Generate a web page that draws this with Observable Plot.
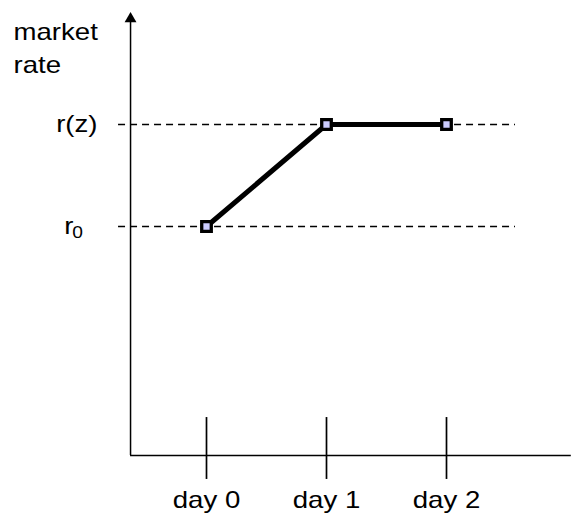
<!DOCTYPE html>
<html><head><meta charset="utf-8">
<script src="https://cdn.jsdelivr.net/npm/d3@7"></script>
<script src="https://cdn.jsdelivr.net/npm/@observablehq/plot@0.6"></script>
<style>
html,body{margin:0;padding:0;background:#fff;}
svg text{font-family:"Liberation Sans",Arial,sans-serif;}
</style></head><body><div id="chart"></div>
<script>
// ---- data ----
const dayLabels = ["day 0", "day 1", "day 2"];
const dayValues = [0, 1, 2];
const marketRate = [1, 2, 2];          // r0 on day 0, r(z) on day 1 and day 2
const rateLevels = [1, 2];             // r0, r(z)
const levelMain = ["r", "r(z)"];
const levelSub = ["0", ""];
const yTitle = "market\nrate";

// ---- layout (in data units) ----
const X = {axisLine: -0.633, axisEnd: 3.04, dashStart: -0.733, dashEnd: 2.575,
           labelEnd: -0.908, rEnd: -1.108, subStart: -1.118, title: -1.608};
const Y = {axisLevel: -1.245, arrowTop: 3.035, tickTop: -0.873, tickBottom: -1.48,
           tickLabel: -1.764, title: 3.055};
const FS = 23;

const chart = Plot.plot({
  width: 571, height: 521, margin: 0,
  x: {type: "linear", domain: [0, 2], range: [206, 446], axis: null},
  y: {type: "linear", domain: [1, 2], range: [226, 124], axis: null},
  style: {background: "white", fontFamily: "Liberation Sans, Arial, sans-serif"},
  marks: [
    Plot.ruleY(rateLevels, {y: d => d, x1: X.dashStart, x2: X.dashEnd, stroke: "black", strokeWidth: 1.5, strokeDasharray: "7,5"}),
    Plot.ruleX([X.axisLine], {x: d => d, y1: Y.axisLevel, y2: Y.arrowTop, stroke: "black", strokeWidth: 1.5}),
    Plot.dot([X.axisLine], {x: d => d, y: Y.arrowTop, symbol: "triangle", r: 4.4, fill: "black", stroke: "none"}),
    Plot.ruleY([Y.axisLevel], {y: d => d, x1: X.axisLine, x2: X.axisEnd, stroke: "black", strokeWidth: 1.5}),
    Plot.ruleX(dayValues, {x: d => d, y1: Y.tickBottom, y2: Y.tickTop, stroke: "black", strokeWidth: 1.7}),
    Plot.text(dayValues, {x: d => d, y: Y.tickLabel, text: (d, i) => dayLabels[i], lineAnchor: "bottom", fontSize: FS, fill: "black"}),
    Plot.line(dayValues, {x: d => d, y: (d, i) => marketRate[i], stroke: "black", strokeWidth: 5}),
    Plot.dot(dayValues, {x: d => d, y: (d, i) => marketRate[i], symbol: "square", r: 5.4, fill: "#ccccff", stroke: "black", strokeWidth: 3.3}),
    Plot.text(rateLevels, {x: (d, i) => levelSub[i] ? X.rEnd : X.labelEnd, y: d => d, text: (d, i) => levelMain[i], textAnchor: "end", lineAnchor: "middle", fontSize: FS, fill: "black"}),
    Plot.text(rateLevels.filter((d, i) => levelSub[i]), {x: X.subStart, y: d => d, text: d => levelSub[rateLevels.indexOf(d)], textAnchor: "start", lineAnchor: "middle", fontSize: 16, dy: 6, fill: "black"}),
    Plot.text([yTitle], {x: X.title, y: Y.title, text: d => d, textAnchor: "start", lineAnchor: "top", fontSize: FS, lineHeight: 1.435, fill: "black"})
  ]
});
document.getElementById("chart").appendChild(chart);

// stretch glyphs horizontally like the reference (keeping Plot's own positioning)
d3.select(chart).selectAll("text").each(function() {
  const holder = this.closest("[text-anchor]");
  const a = holder ? holder.getAttribute("text-anchor") : "start";
  const b = this.getBBox();
  const ox = a === "end" ? b.x + b.width : a === "middle" ? b.x + b.width / 2 : b.x;
  const t = this.getAttribute("transform") || "";
  this.setAttribute("transform", `${t} translate(${ox},0) scale(1.2,1) translate(${-ox},0)`);
});
</script></body></html>
